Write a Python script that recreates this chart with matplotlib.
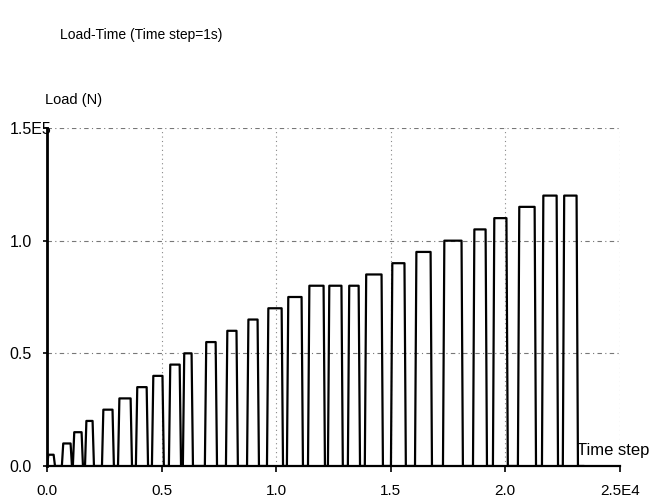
import matplotlib.pyplot as plt

plt.rcParams['font.family'] = ['Liberation Sans', 'DejaVu Sans']

# load pulses: start / end time step and load (N)
pulse_start = [0, 650, 1130, 1660, 2400, 3100, 3880, 4580, 5320, 5930,
               6890, 7810, 8730, 9600, 10470, 11390, 12260, 13130, 13870,
               15010, 16060, 17280, 18590, 19460, 20550, 21600, 22510]
pulse_end = [350, 1090, 1570, 2050, 2920, 3710, 4410, 5100, 5850, 6370,
             7420, 8330, 9250, 10300, 11170, 12130, 12910, 13660, 14660,
             15660, 16800, 18150, 19200, 20110, 21340, 22300, 23170]
pulse_load = [5000, 10000, 15000, 20000, 25000, 30000, 35000, 40000, 45000,
              50000, 55000, 60000, 65000, 70000, 75000, 80000, 80000, 80000,
              85000, 90000, 95000, 100000, 105000, 110000, 115000, 120000,
              120000]

x_ticks = [0, 5000, 10000, 15000, 20000, 25000]
x_labels = ['0.0', '0.5', '1.0', '1.5', '2.0', '2.5E4']
y_ticks = [0, 50000, 100000, 150000]
y_labels = ['0.0', '0.5', '1.0', '1.5E5']

# build the load history as a trace with short ramps
ramp = 60
t, load = [0], [0]
for s, e, p in zip(pulse_start, pulse_end, pulse_load):
    t += [s, s + ramp, e - ramp, e]
    load += [0, p, p, 0]
t.append(23400)
load.append(0)

fig = plt.figure(figsize=(6.57, 5), dpi=100)
ax = fig.add_axes([0.0715, 0.068, 0.872, 0.676])

for xv in x_ticks[1:]:
    ax.axvline(xv, color='#888888', lw=0.8, ls=(0, (1, 3)), zorder=1)
for yv in y_ticks[1:]:
    ax.axhline(yv, color='#777777', lw=0.8, ls=(0, (4, 3, 1, 3)), zorder=1)

ax.plot(t, load, color='black', lw=1.6, zorder=3)

ax.set_xlim(0, 25000)
ax.set_ylim(0, 150000)
ax.set_xticks(x_ticks)
ax.set_xticklabels(x_labels)
ax.set_yticks(y_ticks)
ax.set_yticklabels(y_labels, ha='left')
ax.tick_params(axis='x', direction='out', length=4, width=1.2, pad=9,
               labelsize=11)
ax.tick_params(axis='y', direction='out', length=3, width=1.2, pad=24,
               labelsize=11.5)
for lab in ax.get_yticklabels():
    lab.set_va('center_baseline')

for side in ['top', 'right']:
    ax.spines[side].set_visible(False)
ax.spines['left'].set_linewidth(2)
ax.spines['bottom'].set_linewidth(1.6)

ax.text(0.925, 0.045, 'Time step', transform=ax.transAxes, fontsize=12,
        ha='left', va='center')
fig.text(45 / 657, 0.8, 'Load (N)', fontsize=10.5, ha='left', va='center')
fig.text(60 / 657, 0.93, 'Load-Time (Time step=1s)', fontsize=10,
         ha='left', va='center')

fig.savefig('out.png', dpi=100, facecolor='white')
